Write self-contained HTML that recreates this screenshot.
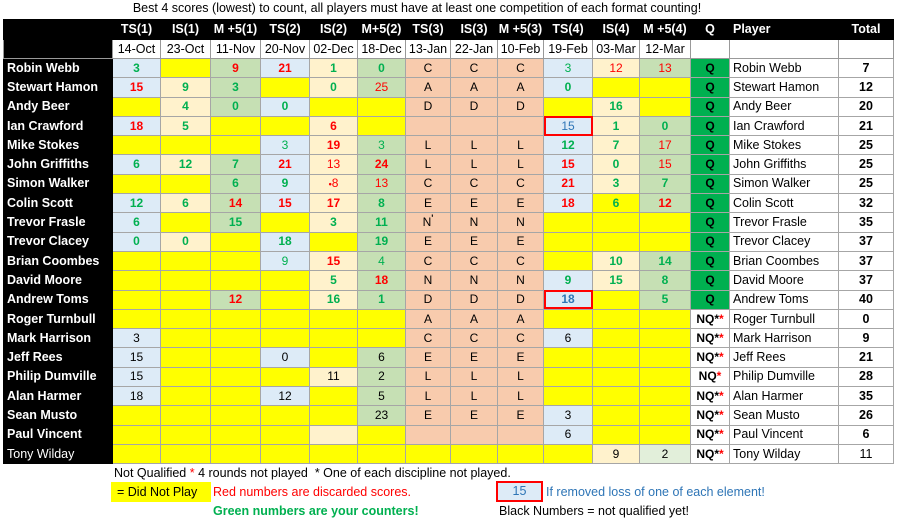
<!DOCTYPE html>
<html><head><meta charset="utf-8"><style>
body{margin:0;width:900px;height:517px;background:#fff;font-family:"Liberation Sans",sans-serif;position:relative;overflow:hidden}
.title{position:absolute;left:113px;top:1px;width:608px;text-align:center;font-size:12.5px;color:#000}
table{position:absolute;left:3px;top:19px;border-collapse:collapse;table-layout:fixed;font-size:12px}
td{padding:0;text-align:center;border:1px solid #a6a6a6;height:18.3px;line-height:17px;overflow:hidden;white-space:nowrap}
tr.h td{background:#000;color:#fff;font-weight:bold;border-color:#000;height:19px;font-size:12.5px}
tr.d td{background:#fff;border-color:#999;height:18px;font-size:12.5px}
td.n{background:#000!important;color:#fff;font-weight:bold;text-align:left;padding-left:3px;border-color:#000;font-size:12.5px}
td.nw{background:#000!important;color:#fff;text-align:left;padding-left:3px;border-color:#000;font-size:12.5px}
.b{background:#ddebf7}.c{background:#fff2cc}.g{background:#c6e0b4}.s{background:#f8cbad}.y{background:#ffff00}.l{background:#e2efda}
.Q{background:#00b050;font-weight:bold}
.r{color:#ff0000;font-weight:bold}.rn{color:#ff0000}.gr{color:#00b050;font-weight:bold}.gn{color:#00b050}.k{color:#000}.bl{color:#2e75b6}
.rb{outline:2px solid #ff0000;outline-offset:-2px}
td.p{text-align:left;padding-left:3px;background:#fff;font-size:12.5px}
td.t{font-weight:bold;background:#fff;font-size:12.5px}
.nq{font-weight:bold;background:#fff}.nq i{color:#ff0000;font-style:normal}
.ft{position:absolute;font-size:12.5px;white-space:nowrap}
</style></head><body>
<div class="title">Best 4 scores (lowest) to count, all players must have at least one competition of each format counting!</div>
<table>
<colgroup><col style="width:109px"><col style="width:48px"><col style="width:50px"><col style="width:50px"><col style="width:49px"><col style="width:48px"><col style="width:48px"><col style="width:45px"><col style="width:47px"><col style="width:46px"><col style="width:49px"><col style="width:47px"><col style="width:51px"><col style="width:39px"><col style="width:109px"><col style="width:55px"></colgroup>
<tr class="h"><td></td><td>TS(1)</td><td>IS(1)</td><td>M +5(1)</td><td>TS(2)</td><td>IS(2)</td><td>M+5(2)</td><td>TS(3)</td><td>IS(3)</td><td>M +5(3)</td><td>TS(4)</td><td>IS(4)</td><td>M +5(4)</td><td>Q</td><td style="text-align:left;padding-left:3px">Player</td><td>Total</td></tr>
<tr class="d"><td class="n"></td><td>14-Oct</td><td>23-Oct</td><td>11-Nov</td><td>20-Nov</td><td>02-Dec</td><td>18-Dec</td><td>13-Jan</td><td>22-Jan</td><td>10-Feb</td><td>19-Feb</td><td>03-Mar</td><td>12-Mar</td><td></td><td></td><td></td></tr>
<tr><td class="n">Robin Webb</td><td class="b gr">3</td><td class="y"></td><td class="g r">9</td><td class="b r">21</td><td class="c gr">1</td><td class="g gr">0</td><td class="s">C</td><td class="s">C</td><td class="s">C</td><td class="b gn">3</td><td class="c rn">12</td><td class="g rn">13</td><td class="Q">Q</td><td class="p">Robin Webb</td><td class="t">7</td></tr>
<tr><td class="n">Stewart Hamon</td><td class="b r">15</td><td class="c gr">9</td><td class="g gr">3</td><td class="y"></td><td class="c gr">0</td><td class="g rn">25</td><td class="s">A</td><td class="s">A</td><td class="s">A</td><td class="b gr">0</td><td class="y"></td><td class="y"></td><td class="Q">Q</td><td class="p">Stewart Hamon</td><td class="t">12</td></tr>
<tr><td class="n">Andy Beer</td><td class="y"></td><td class="c gr">4</td><td class="g gr">0</td><td class="b gr">0</td><td class="y"></td><td class="y"></td><td class="s">D</td><td class="s">D</td><td class="s">D</td><td class="y"></td><td class="c gr">16</td><td class="y"></td><td class="Q">Q</td><td class="p">Andy Beer</td><td class="t">20</td></tr>
<tr><td class="n">Ian Crawford</td><td class="b r">18</td><td class="c gr">5</td><td class="y"></td><td class="y"></td><td class="c r">6</td><td class="y"></td><td class="s"></td><td class="s"></td><td class="s"></td><td class="b bl rb">15</td><td class="c gr">1</td><td class="g gr">0</td><td class="Q">Q</td><td class="p">Ian Crawford</td><td class="t">21</td></tr>
<tr><td class="n">Mike Stokes</td><td class="y"></td><td class="y"></td><td class="y"></td><td class="b gn">3</td><td class="c r">19</td><td class="g gn">3</td><td class="s">L</td><td class="s">L</td><td class="s">L</td><td class="b gr">12</td><td class="c gr">7</td><td class="g rn">17</td><td class="Q">Q</td><td class="p">Mike Stokes</td><td class="t">25</td></tr>
<tr><td class="n">John Griffiths</td><td class="b gr">6</td><td class="c gr">12</td><td class="g gr">7</td><td class="b r">21</td><td class="c rn">13</td><td class="g r">24</td><td class="s">L</td><td class="s">L</td><td class="s">L</td><td class="b r">15</td><td class="c gr">0</td><td class="g rn">15</td><td class="Q">Q</td><td class="p">John Griffiths</td><td class="t">25</td></tr>
<tr><td class="n">Simon Walker</td><td class="y"></td><td class="y"></td><td class="g gr">6</td><td class="b gr">9</td><td class="c rn"><b style="font-size:9px">•</b>8</td><td class="g rn">13</td><td class="s">C</td><td class="s">C</td><td class="s">C</td><td class="b r">21</td><td class="c gr">3</td><td class="g gr">7</td><td class="Q">Q</td><td class="p">Simon Walker</td><td class="t">25</td></tr>
<tr><td class="n">Colin Scott</td><td class="b gr">12</td><td class="c gr">6</td><td class="g r">14</td><td class="b r">15</td><td class="c r">17</td><td class="g gr">8</td><td class="s">E</td><td class="s">E</td><td class="s">E</td><td class="b r">18</td><td class="y gr">6</td><td class="g r">12</td><td class="Q">Q</td><td class="p">Colin Scott</td><td class="t">32</td></tr>
<tr><td class="n">Trevor Frasle</td><td class="b gr">6</td><td class="y"></td><td class="g gr">15</td><td class="y"></td><td class="c gr">3</td><td class="g gr">11</td><td class="s">N<b style="font-size:9px;vertical-align:top;line-height:9px">'</b></td><td class="s">N</td><td class="s">N</td><td class="y"></td><td class="y"></td><td class="y"></td><td class="Q">Q</td><td class="p">Trevor Frasle</td><td class="t">35</td></tr>
<tr><td class="n">Trevor Clacey</td><td class="b gr">0</td><td class="c gr">0</td><td class="y"></td><td class="b gr">18</td><td class="y"></td><td class="g gr">19</td><td class="s">E</td><td class="s">E</td><td class="s">E</td><td class="y"></td><td class="y"></td><td class="y"></td><td class="Q">Q</td><td class="p">Trevor Clacey</td><td class="t">37</td></tr>
<tr><td class="n">Brian Coombes</td><td class="y"></td><td class="y"></td><td class="y"></td><td class="b gn">9</td><td class="c r">15</td><td class="g gn">4</td><td class="s">C</td><td class="s">C</td><td class="s">C</td><td class="y"></td><td class="c gr">10</td><td class="g gr">14</td><td class="Q">Q</td><td class="p">Brian Coombes</td><td class="t">37</td></tr>
<tr><td class="n">David Moore</td><td class="y"></td><td class="y"></td><td class="y"></td><td class="y"></td><td class="c gr">5</td><td class="g r">18</td><td class="s">N</td><td class="s">N</td><td class="s">N</td><td class="b gr">9</td><td class="c gr">15</td><td class="g gr">8</td><td class="Q">Q</td><td class="p">David Moore</td><td class="t">37</td></tr>
<tr><td class="n">Andrew Toms</td><td class="y"></td><td class="y"></td><td class="g r">12</td><td class="y"></td><td class="c gr">16</td><td class="g gr">1</td><td class="s">D</td><td class="s">D</td><td class="s">D</td><td class="b bl rb" style="font-weight:bold">18</td><td class="y"></td><td class="g gr">5</td><td class="Q">Q</td><td class="p">Andrew Toms</td><td class="t">40</td></tr>
<tr><td class="n">Roger Turnbull</td><td class="y"></td><td class="y"></td><td class="y"></td><td class="y"></td><td class="y"></td><td class="y"></td><td class="s">A</td><td class="s">A</td><td class="s">A</td><td class="y"></td><td class="y"></td><td class="y"></td><td class="nq">NQ*<i>*</i></td><td class="p">Roger Turnbull</td><td class="t">0</td></tr>
<tr><td class="n">Mark Harrison</td><td class="b k">3</td><td class="y"></td><td class="y"></td><td class="y"></td><td class="y"></td><td class="y"></td><td class="s">C</td><td class="s">C</td><td class="s">C</td><td class="b k">6</td><td class="y"></td><td class="y"></td><td class="nq">NQ*<i>*</i></td><td class="p">Mark Harrison</td><td class="t">9</td></tr>
<tr><td class="n">Jeff Rees</td><td class="b k">15</td><td class="y"></td><td class="y"></td><td class="b k">0</td><td class="y"></td><td class="g k">6</td><td class="s">E</td><td class="s">E</td><td class="s">E</td><td class="y"></td><td class="y"></td><td class="y"></td><td class="nq">NQ*<i>*</i></td><td class="p">Jeff Rees</td><td class="t">21</td></tr>
<tr><td class="n">Philip Dumville</td><td class="b k">15</td><td class="y"></td><td class="y"></td><td class="y"></td><td class="c k">11</td><td class="g k">2</td><td class="s">L</td><td class="s">L</td><td class="s">L</td><td class="y"></td><td class="y"></td><td class="y"></td><td class="nq">NQ<i>*</i></td><td class="p">Philip Dumville</td><td class="t">28</td></tr>
<tr><td class="n">Alan Harmer</td><td class="b k">18</td><td class="y"></td><td class="y"></td><td class="b k">12</td><td class="y"></td><td class="g k">5</td><td class="s">L</td><td class="s">L</td><td class="s">L</td><td class="y"></td><td class="y"></td><td class="y"></td><td class="nq">NQ*<i>*</i></td><td class="p">Alan Harmer</td><td class="t">35</td></tr>
<tr><td class="n">Sean Musto</td><td class="y"></td><td class="y"></td><td class="y"></td><td class="y"></td><td class="y"></td><td class="g k">23</td><td class="s">E</td><td class="s">E</td><td class="s">E</td><td class="b k">3</td><td class="y"></td><td class="y"></td><td class="nq">NQ*<i>*</i></td><td class="p">Sean Musto</td><td class="t">26</td></tr>
<tr><td class="n">Paul Vincent</td><td class="y"></td><td class="y"></td><td class="y"></td><td class="y"></td><td class="c"></td><td class="y"></td><td class="s"></td><td class="s"></td><td class="s"></td><td class="b k">6</td><td class="y"></td><td class="y"></td><td class="nq">NQ*<i>*</i></td><td class="p">Paul Vincent</td><td class="t">6</td></tr>
<tr><td class="nw">Tony Wilday</td><td class="y"></td><td class="y"></td><td class="y"></td><td class="y"></td><td class="y"></td><td class="y"></td><td class="y"></td><td class="y"></td><td class="y"></td><td class="y"></td><td class="c k">9</td><td class="l k">2</td><td class="nq">NQ*<i>*</i></td><td class="p">Tony Wilday</td><td class="p" style="text-align:center;padding:0">11</td></tr>
</table>
<div class="ft" style="left:114px;top:466px">Not Qualified <span style="color:#f00">*</span> 4 rounds not played&nbsp; * One of each discipline not played.</div>
<div class="ft" style="left:111px;top:482px;width:100px;height:20px;background:#ffff00;line-height:20px;padding-left:6px;box-sizing:border-box">= Did Not Play</div>
<div class="ft" style="left:213px;top:485px;color:#ff0000">Red numbers are discarded scores.</div>
<div class="ft" style="left:213px;top:504px;color:#00b050;font-weight:bold">Green numbers are your counters!</div>
<div class="ft" style="left:496px;top:481px;width:47px;height:21px;background:#ddebf7;border:2px solid #f00;box-sizing:border-box;text-align:center;line-height:17px;color:#2e75b6">15</div>
<div class="ft" style="left:546px;top:485px;color:#2e75b6">If removed loss of one of each element!</div>
<div class="ft" style="left:499px;top:504px">Black Numbers = not qualified yet!</div>
</body></html>
